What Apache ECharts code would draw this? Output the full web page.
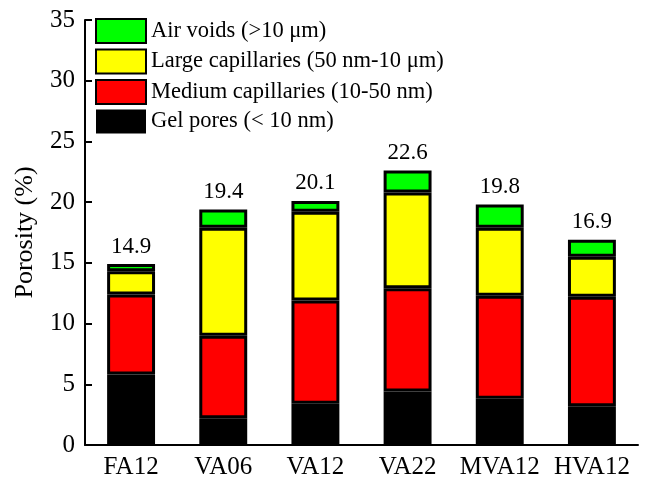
<!DOCTYPE html>
<html><head><meta charset="utf-8">
<script src="https://cdn.jsdelivr.net/npm/echarts@6/dist/echarts.min.js"></script>
<style>html,body{margin:0;padding:0;background:#fff}#c{width:648px;height:480px}</style>
</head><body><div id="c"></div>
<script>
const categories = ['FA12','VA06','VA12','VA22','MVA12','HVA12'];
const gelPores = [5.8, 2.2, 3.4, 4.4, 3.8, 3.2];
const mediumCap = [6.6, 6.8, 8.5, 8.5, 8.5, 9.0];
const largeCap = [1.9, 8.9, 7.3, 7.9, 5.6, 3.3];
const airVoids = [0.6, 1.5, 0.9, 1.8, 1.9, 1.4];
const totals = [14.9, 19.4, 20.1, 22.6, 19.8, 16.9];
const seriesNames = ['Gel pores (< 10 nm)','Medium capillaries (10-50 nm)','Large capillaries (50 nm-10 \u03bcm)','Air voids (>10 \u03bcm)'];
const yTicks = [0,5,10,15,20,25,30,35];

const font = 'Liberation Serif';
const colors = ['#000000','#ff0000','#ffff00','#00ff00'];
const datasets = [gelPores, mediumCap, largeCap, airVoids];
const series = datasets.map((d,i)=>({
  name: seriesNames[i], type:'bar', stack:'p', data:d, barWidth:'52%',
  itemStyle:{color:colors[i], borderColor:'#000', borderWidth: i===0?0:3},
  label: i===3 ? {show:true, position:'top', distance:6, fontFamily:font, fontSize:23, color:'#000',
    formatter:p=>totals[p.dataIndex].toFixed(1)} : {show:false}
}));
const chart = echarts.init(document.getElementById('c'));
chart.setOption({
  animation:false,
  grid:{left:85,right:10,top:20,bottom:35},
  legend:{data:[seriesNames[3],seriesNames[2],seriesNames[1],seriesNames[0]].map(n=>({name:n,icon:'rect'})),
    orient:'vertical', left:95, top:18, padding:0, itemWidth:50, itemHeight:24, itemGap:4.5,
    textStyle:{fontFamily:font,fontSize:22.5,color:'#000'}, selectedMode:false},
  xAxis:{type:'category', data:categories,
    axisLine:{lineStyle:{color:'#000',width:2}}, axisTick:{show:false},
    axisLabel:{interval:0, fontFamily:font,fontSize:25,color:'#000',margin:10}},
  yAxis:{type:'value', min:yTicks[0], max:yTicks[yTicks.length-1], interval:5,
    name:'Porosity (%)', nameLocation:'middle', nameGap:47,
    nameTextStyle:{fontFamily:font,fontSize:26,color:'#000'},
    axisLine:{show:true,lineStyle:{color:'#000',width:2}},
    axisTick:{show:true,inside:true,length:7,lineStyle:{color:'#000',width:2}},
    splitLine:{show:false},
    axisLabel:{fontFamily:font,fontSize:25,color:'#000',margin:10}},
  series: series
});
</script></body></html>
